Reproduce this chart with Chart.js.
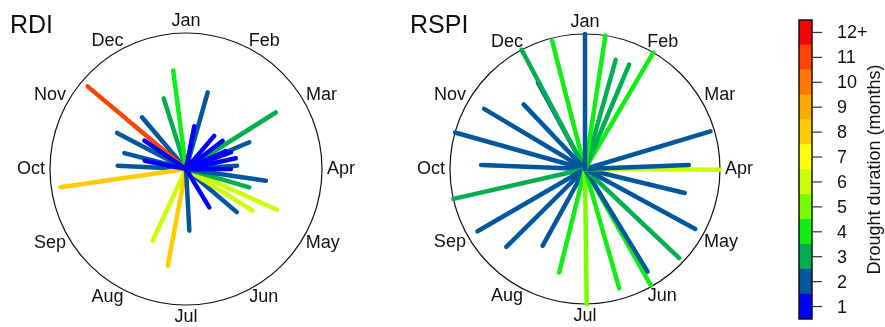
<!DOCTYPE html>
<html>
<head>
<meta charset="utf-8">
<script src="https://cdn.jsdelivr.net/npm/chart.js@4/dist/chart.umd.min.js"></script>
<style>
  html, body { margin: 0; padding: 0; background: #fff; }
  #wrap { position: relative; width: 885px; height: 327px; overflow: hidden; }
  canvas { position: absolute; top: 0; }
</style>
</head>
<body>
<div id="wrap">
  <canvas id="rdi" width="375" height="327" style="left:0"></canvas>
  <canvas id="rspi" width="370" height="327" style="left:390px"></canvas>
  <canvas id="scale" width="125" height="327" style="left:760px"></canvas>
</div>
<script>
const FONT = "'Liberation Sans', Arial, Helvetica, sans-serif";

const months = ['Jan', 'Feb', 'Mar', 'Apr', 'May', 'Jun', 'Jul', 'Aug', 'Sep', 'Oct', 'Nov', 'Dec'];

// duration classes 1..12+ and their colours
const durationLabels = ['1', '2', '3', '4', '5', '6', '7', '8', '9', '10', '11', '12+'];
const durationColors = ['#0000FF', '#00579E', '#00B050', '#11EE11', '#77FF00', '#CCFF00',
                        '#FFFF00', '#FFCC00', '#FFAA00', '#FF7700', '#FF4400', '#FF0000'];

// RDI events: onset angle (deg clockwise from Jan), relative severity (0-1), duration (months)
// (earlier entries are drawn on top)
const rdiAngle = [11, 40.4, 52.4, 65.8, 69.6, 77.9, 90, 148.7, 281.3, 304.2,
                  310, 352.6, 342.5, 15.8, 57.8, 67.1, 86.3, 98.3, 106.1, 114.1,
                  122, 130.3, 176.9, 190.7, 204.9, 261.7, 272.8, 284.5, 297.6, 319.6];
const rdiSeverity = [0.32, 0.32, 0.34, 0.32, 0.353, 0.375, 0.33, 0.33, 0.31, 0.37,
                     0.945, 0.73, 0.545, 0.586, 0.78, 0.505, 0.376, 0.594, 0.485, 0.733,
                     0.578, 0.49, 0.454, 0.724, 0.581, 0.934, 0.503, 0.468, 0.572, 0.499];
const rdiDuration = [1, 1, 1, 1, 1, 1, 1, 1, 1, 1,
                     11, 4, 3, 2, 3, 2, 2, 2, 3, 6,
                     6, 2, 2, 8, 6, 8, 2, 2, 2, 2];

// RSPI events
const rspiAngle = [0, 8.7, 15.7, 22.9, 30.4, 73.3, 87.8, 90.3, 103.5, 118.5, 133.4, 148.6, 150.5, 164,
                   179.3, 194, 208.9, 225.3, 239.9, 257.2, 272.2, 285.7, 300.8, 316.5, 332, 331.4, 345.6];
const rspiSeverity = [1.0, 1.0, 0.84, 0.84, 1.0, 0.97, 0.77, 1.0, 0.76, 0.93, 0.96, 0.89, 0.99, 0.92,
                      1.0, 0.79, 0.65, 0.82, 0.92, 1.0, 0.77, 1.0, 0.87, 0.66, 1.0, 0.73, 0.98];
const rspiDuration = [2, 4, 3, 3, 4, 2, 2, 6, 2, 2, 3, 2, 4, 4,
                      5, 4, 2, 2, 2, 3, 2, 2, 2, 2, 3, 2, 4];

// circle outline, month names and panel title
function ringPlugin(title, titleX) {
  return {
    id: 'ring',
    beforeDatasetsDraw(chart) {
      const { ctx, scales: { x, y } } = chart;
      const cx = x.getPixelForValue(0), cy = y.getPixelForValue(0);
      const r = x.getPixelForValue(1) - cx;
      ctx.save();
      ctx.beginPath();
      ctx.arc(cx, cy, r, 0, Math.PI * 2);
      ctx.lineWidth = 1.2;
      ctx.strokeStyle = '#111';
      ctx.stroke();
      ctx.restore();
    },
    afterDraw(chart) {
      const { ctx, scales: { x, y } } = chart;
      const cx = x.getPixelForValue(0), cy = y.getPixelForValue(0);
      const r = x.getPixelForValue(1) - cx;
      ctx.save();
      ctx.fillStyle = '#111';
      ctx.font = '18px ' + FONT;
      ctx.textAlign = 'center';
      ctx.textBaseline = 'middle';
      months.forEach((m, i) => {
        const t = i * Math.PI / 6;
        const w = ctx.measureText(m).width;
        const lx = cx + Math.sin(t) * (r + 5 + w / 2);
        const ly = cy - Math.cos(t) * (r + 5 + 7);
        ctx.fillText(m, lx, ly);
      });
      ctx.font = '25px ' + FONT;
      ctx.textAlign = 'left';
      ctx.textBaseline = 'alphabetic';
      ctx.fillText(title, titleX, 33);
      ctx.restore();
    }
  };
}

function spokeChart(id, title, titleX, angles, severity, duration, pad) {
  const datasets = angles.map((a, i) => {
    const t = a * Math.PI / 180;
    return {
      data: [{ x: 0, y: 0 }, { x: severity[i] * Math.sin(t), y: severity[i] * Math.cos(t) }],
      borderColor: durationColors[duration[i] - 1],
      borderWidth: 4.5,
      borderCapStyle: 'round',
      showLine: true,
      pointRadius: 0,
      clip: false
    };
  });
  return new Chart(document.getElementById(id), {
    type: 'scatter',
    data: { datasets },
    options: {
      responsive: false,
      animation: false,
      events: [],
      layout: { padding: pad },
      plugins: { legend: { display: false }, tooltip: { enabled: false } },
      scales: {
        x: { display: false, min: -1, max: 1 },
        y: { display: false, min: -1, max: 1 }
      }
    },
    plugins: [ringPlugin(title, titleX)]
  });
}

spokeChart('rdi', 'RDI', 10, rdiAngle, rdiSeverity, rdiDuration,
  { left: 50, right: 53, top: 33, bottom: 22 });
spokeChart('rspi', 'RSPI', 20, rspiAngle, rspiSeverity, rspiDuration,
  { left: 60, right: 40, top: 34, bottom: 23 });

// colour key: one stacked bar, one segment per duration class
new Chart(document.getElementById('scale'), {
  type: 'bar',
  data: {
    labels: [''],
    datasets: durationColors.map(c => ({
      data: [1], backgroundColor: c, borderWidth: 0,
      barPercentage: 1, categoryPercentage: 1
    }))
  },
  options: {
    responsive: false,
    animation: false,
    events: [],
    layout: { padding: { left: 39, right: 73, top: 20, bottom: 8 } },
    plugins: { legend: { display: false }, tooltip: { enabled: false } },
    scales: {
      x: { display: false, stacked: true },
      y: { display: false, stacked: true, min: 0, max: 12 }
    }
  },
  plugins: [{
    id: 'keyAxis',
    afterDraw(chart) {
      const { ctx, chartArea: a, scales: { y } } = chart;
      ctx.save();
      ctx.strokeStyle = '#111';
      ctx.lineWidth = 1.5;
      ctx.strokeRect(a.left, a.top, a.right - a.left, a.bottom - a.top);
      ctx.strokeStyle = '#333';
      ctx.lineWidth = 1.2;
      ctx.fillStyle = '#111';
      ctx.font = '18px ' + FONT;
      ctx.textAlign = 'left';
      ctx.textBaseline = 'middle';
      durationLabels.forEach((lab, i) => {
        const py = y.getPixelForValue(i + 0.5);
        ctx.beginPath();
        ctx.moveTo(a.right, py);
        ctx.lineTo(a.right + 10, py);
        ctx.stroke();
        ctx.fillText(lab, a.right + 25, py + 1);
      });
      ctx.translate(115, (a.top + a.bottom) / 2);
      ctx.rotate(-Math.PI / 2);
      ctx.textAlign = 'center';
      ctx.fillText('Drought duration (months)', 0, 0);
      ctx.restore();
    }
  }]
});
</script>
</body>
</html>
